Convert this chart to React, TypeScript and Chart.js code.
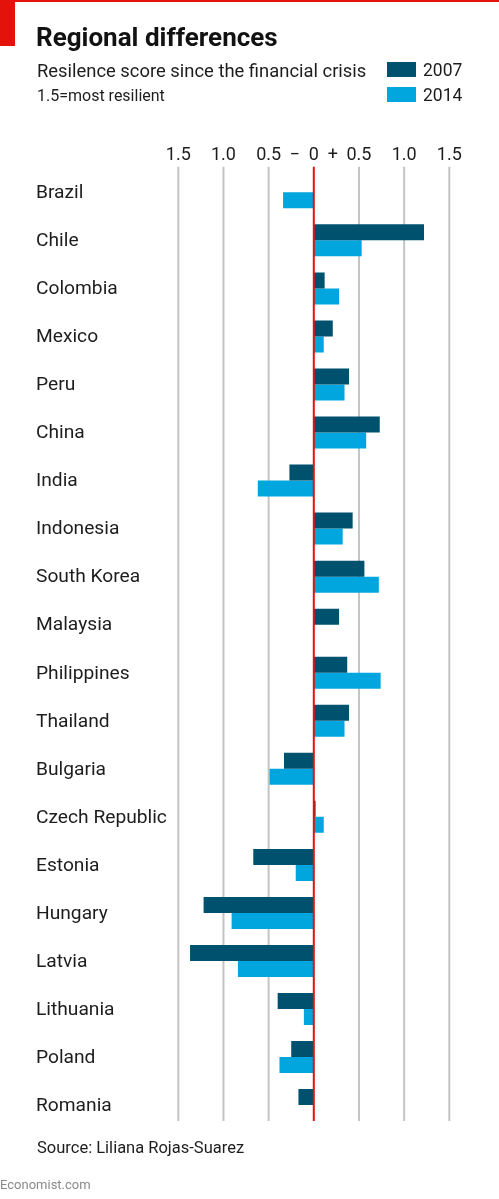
import React, { useEffect, useRef } from 'react';
import { Chart, registerables } from 'chart.js';

Chart.register(...registerables);

// ---- data ----
const categories = [
  'Brazil', 'Chile', 'Colombia', 'Mexico', 'Peru', 'China', 'India', 'Indonesia',
  'South Korea', 'Malaysia', 'Philippines', 'Thailand', 'Bulgaria', 'Czech Republic',
  'Estonia', 'Hungary', 'Latvia', 'Lithuania', 'Poland', 'Romania',
];
const values2007: (number | null)[] = [
  null, 1.22, 0.12, 0.21, 0.39, 0.73, -0.27, 0.43, 0.56, 0.28,
  0.37, 0.39, -0.33, 0.02, -0.67, -1.22, -1.37, -0.40, -0.25, -0.17,
];
const values2014: (number | null)[] = [
  -0.34, 0.53, 0.28, 0.11, 0.34, 0.58, -0.62, 0.32, 0.72, null,
  0.74, 0.34, -0.49, 0.11, -0.20, -0.91, -0.84, -0.11, -0.38, null,
];
const seriesNames = ['2007', '2014'];
const xTickValues = [-1.5, -1, -0.5, 0, 0.5, 1, 1.5];
const xTickLabels = ['1.5', '1.0', '0.5', '\u2212  0  +', '0.5', '1.0', '1.5'];

// ---- styles ----
const FONT = 'Roboto, "Noto Sans", sans-serif';
const C2007 = '#00516e';
const C2014 = '#00a6dd';
const RED = '#e3120b';
const GRID = '#c2c4c6';
const TEXT = '#1d1d1d';

const gridPlugin = {
  id: 'econGrid',
  beforeDatasetsDraw(chart: any) {
    const { ctx, chartArea, scales } = chart;
    const x = scales.x;
    ctx.save();
    ctx.lineWidth = 2;
    ctx.strokeStyle = GRID;
    x.ticks.forEach((t: any) => {
      if (t.value === 0) return;
      const px = x.getPixelForValue(t.value);
      ctx.beginPath();
      ctx.moveTo(px, chartArea.top - 1.5);
      ctx.lineTo(px, chartArea.bottom - 8);
      ctx.stroke();
    });
    ctx.restore();
  },
  afterDatasetsDraw(chart: any) {
    const { ctx, chartArea, scales } = chart;
    const px = scales.x.getPixelForValue(0);
    ctx.save();
    ctx.lineWidth = 2;
    ctx.strokeStyle = RED;
    ctx.beginPath();
    ctx.moveTo(px, chartArea.top - 1.5);
    ctx.lineTo(px, chartArea.bottom - 8);
    ctx.stroke();
    ctx.restore();
  },
};

function ChartCanvas() {
  const ref = useRef<HTMLCanvasElement | null>(null);
  useEffect(() => {
    if (!ref.current) return;
    const chart = new Chart(ref.current, {
      type: 'bar',
      data: {
        labels: categories,
        datasets: [
          { label: seriesNames[0], data: values2007 as any, backgroundColor: C2007, borderWidth: 0 },
          { label: seriesNames[1], data: values2014 as any, backgroundColor: C2014, borderWidth: 0 },
        ],
      },
      options: {
        indexAxis: 'y',
        animation: false,
        responsive: true,
        maintainAspectRatio: false,
        layout: { padding: { top: 128.3, left: 36, right: 49.7, bottom: 69.9 } },
        datasets: { bar: { categoryPercentage: 0.666, barPercentage: 1.0 } },
        plugins: { legend: { display: false }, tooltip: { enabled: false } },
        scales: {
          x: {
            type: 'linear',
            position: 'top',
            min: -1.5,
            max: 1.5,
            grid: { display: false, drawTicks: false },
            border: { display: false },
            ticks: {
              stepSize: 0.5,
              autoSkip: false,
              maxRotation: 0,
              padding: 2,
              color: TEXT,
              font: { family: FONT, size: 18 },
              callback: (v: any) => {
                const i = xTickValues.indexOf(Number(v));
                return i >= 0 ? xTickLabels[i] : '';
              },
            },
            afterFit: (s: any) => { s.height = 40; },
          },
          y: {
            type: 'category',
            grid: { display: false, drawTicks: false },
            border: { display: false },
            ticks: {
              autoSkip: false,
              crossAlign: 'far',
              labelOffset: 1,
              color: TEXT,
              font: { family: FONT, size: 19.2 },
            },
            afterFit: (s: any) => { s.width = 142.3; },
          },
        },
      } as any,
      plugins: [gridPlugin],
    });
    return () => chart.destroy();
  }, []);
  return <canvas ref={ref} />;
}

const abs = (top: number, left: number, extra: React.CSSProperties = {}): React.CSSProperties => ({
  position: 'absolute', top, left, lineHeight: 1, whiteSpace: 'nowrap', fontFamily: FONT, color: TEXT, margin: 0, ...extra,
});

export default function App() {
  return (
    <div style={{ position: 'relative', width: 499, height: 1199, overflow: 'hidden', background: '#fff' }}>
      <style>{'body{margin:0;background:#fff}'}</style>
      <div style={{ position: 'absolute', top: 0, left: 0, width: 499, height: 2, background: RED }} />
      <div style={{ position: 'absolute', top: 0, left: 0, width: 15, height: 46, background: RED }} />
      <div style={{ position: 'absolute', top: 0, left: 0, width: 499, height: 1199 }}>
        <ChartCanvas />
      </div>
      <div style={abs(23.8, 36, { fontSize: 26, fontWeight: 700, color: '#121212' })}>Regional differences</div>
      <div style={abs(61.5, 37, { fontSize: 18.4 })}>Resilence score since the financial crisis</div>
      <div style={abs(88.2, 37, { fontSize: 16 })}>1.5=most resilient</div>
      <div style={{ position: 'absolute', top: 62, left: 387, width: 29, height: 15, background: C2007 }} />
      <div style={{ position: 'absolute', top: 87, left: 387, width: 29, height: 15, background: C2014 }} />
      <div style={abs(62, 423, { fontSize: 17.5 })}>{seriesNames[0]}</div>
      <div style={abs(87, 423, { fontSize: 17.5 })}>{seriesNames[1]}</div>
      <div style={abs(1140, 37, { fontSize: 16.5 })}>Source: Liliana Rojas-Suarez</div>
      <div style={abs(1178, 0, { fontSize: 13, color: '#8a8a8a' })}>Economist.com</div>
    </div>
  );
}
